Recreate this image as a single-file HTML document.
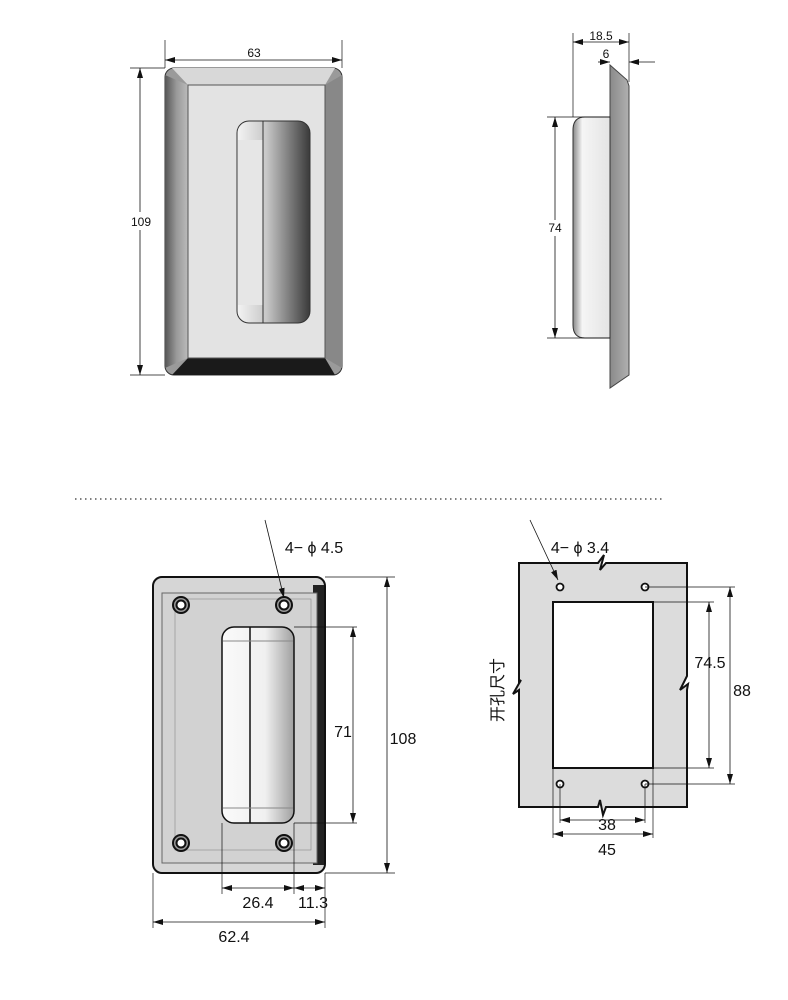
<!DOCTYPE html>
<html><head><meta charset="utf-8"><style>
html,body{margin:0;padding:0;background:#fff;}
svg{display:block;}
text{font-family:"Liberation Sans","Noto Sans CJK SC",sans-serif;fill:#111;}
</style></head><body>
<svg width="788" height="1000" viewBox="0 0 788 1000" xmlns="http://www.w3.org/2000/svg">
<defs>
<marker id="a" viewBox="0 0 10 6" refX="10" refY="3" markerWidth="10" markerHeight="6" orient="auto-start-reverse" markerUnits="userSpaceOnUse"><path d="M0,0 L10,3 L0,6 z" fill="#111"/></marker>
<linearGradient id="hg" x1="0" x2="1" y1="0" y2="0"><stop offset="0" stop-color="#f4f4f4"/><stop offset="0.4" stop-color="#c8c8c8"/><stop offset="1" stop-color="#3a3a3a"/></linearGradient>
<linearGradient id="hg2" x1="0" x2="1"><stop offset="0" stop-color="#fafafa"/><stop offset="0.6" stop-color="#f0f0f0"/><stop offset="1" stop-color="#a0a0a0"/></linearGradient>
<linearGradient id="side" x1="0" x2="1"><stop offset="0" stop-color="#8a8a8a"/><stop offset="1" stop-color="#b0b0b0"/></linearGradient>
<linearGradient id="box" x1="0" x2="1"><stop offset="0" stop-color="#888"/><stop offset="0.25" stop-color="#f5f5f5"/><stop offset="1" stop-color="#e4e4e4"/></linearGradient>
<linearGradient id="lb" x1="0" x2="1"><stop offset="0" stop-color="#555"/><stop offset="0.5" stop-color="#999"/><stop offset="1" stop-color="#bbb"/></linearGradient>
</defs>
<g stroke="#111" stroke-width="1" fill="none">
<!-- top-left view -->
<rect x="165" y="68" width="177" height="307" rx="9" fill="#9a9a9a" stroke="#333"/>
<polygon points="165,75 188,85 188,358 165,368" fill="url(#lb)" stroke="none"/>
<polygon points="342,75 325,85 325,358 342,368" fill="#888" stroke="none"/>
<polygon points="172,68 335,68 325,85 188,85" fill="#d8d8d8" stroke="none"/>
<polygon points="172,375 335,375 325,358 188,358" fill="#1a1a1a" stroke="none"/>
<rect x="188" y="85" width="137" height="273" fill="#e3e3e3" stroke="#555"/>
<rect x="237" y="121" width="73" height="202" rx="12" fill="url(#hg)" stroke="#333"/>
<rect x="238" y="140" width="25" height="165" fill="#e6e6e6" stroke="none"/>
<line x1="263" y1="121" x2="263" y2="323" stroke="#333"/>
<line x1="165" y1="40" x2="165" y2="68" stroke-width="0.7"/>
<line x1="342" y1="40" x2="342" y2="68" stroke-width="0.7"/>
<line x1="165" y1="60" x2="342" y2="60" marker-start="url(#a)" marker-end="url(#a)" stroke-width="0.8"/>
<line x1="130" y1="68" x2="165" y2="68" stroke-width="0.7"/>
<line x1="130" y1="375" x2="165" y2="375" stroke-width="0.7"/>
<line x1="140" y1="68" x2="140" y2="375" marker-start="url(#a)" marker-end="url(#a)" stroke-width="0.8"/>
<rect x="126" y="212" width="30" height="18" fill="#fff" stroke="none"/>
<!-- side view -->
<polygon points="610,65 627,80 629,86 629,375 610,388" fill="url(#side)" stroke="#444"/>
<path d="M610,117 L585,117 Q573,117 573,130 L573,325 Q573,338 585,338 L610,338 Z" fill="url(#box)" stroke="#333"/>
<line x1="573" y1="33" x2="573" y2="117" stroke-width="0.7"/>
<line x1="629" y1="33" x2="629" y2="82" stroke-width="0.7"/>
<line x1="573" y1="42" x2="629" y2="42" marker-start="url(#a)" marker-end="url(#a)" stroke-width="0.8"/>
<line x1="598" y1="62" x2="610" y2="62" marker-end="url(#a)" stroke-width="0.8"/>
<line x1="655" y1="62" x2="629" y2="62" marker-end="url(#a)" stroke-width="0.8"/>
<line x1="547" y1="117" x2="610" y2="117" stroke-width="0.7"/>
<line x1="547" y1="338" x2="610" y2="338" stroke-width="0.7"/>
<line x1="555" y1="117" x2="555" y2="338" marker-start="url(#a)" marker-end="url(#a)" stroke-width="0.8"/>
<rect x="545" y="220" width="22" height="16" fill="#fff" stroke="none"/>
<!-- dotted -->
<line x1="75" y1="499" x2="662" y2="499" stroke="#333" stroke-dasharray="1.5,3.5" stroke-width="1.2"/>
<!-- bottom-left -->
<rect x="153" y="577" width="172" height="296" rx="9" fill="#d6d6d6" stroke="#111" stroke-width="2"/>
<rect x="313" y="585" width="11" height="280" fill="#222" stroke="none"/>
<rect x="162" y="593" width="155" height="270" fill="#d2d2d2" stroke="#666"/>
<rect x="175" y="599" width="136" height="251" fill="none" stroke="#888" stroke-width="0.6"/>
<g fill="#fff" stroke="#111" stroke-width="2">
<circle cx="181" cy="605" r="8" fill="#999"/><circle cx="181" cy="605" r="4.5"/>
<circle cx="284" cy="605" r="8" fill="#999"/><circle cx="284" cy="605" r="4.5"/>
<circle cx="181" cy="843" r="8" fill="#999"/><circle cx="181" cy="843" r="4.5"/>
<circle cx="284" cy="843" r="8" fill="#999"/><circle cx="284" cy="843" r="4.5"/>
</g>
<rect x="222" y="627" width="72" height="196" rx="12" fill="url(#hg2)" stroke="#111" stroke-width="1.5"/>
<line x1="250" y1="627" x2="250" y2="823" stroke-width="1.5"/>
<line x1="223" y1="641" x2="293" y2="641" stroke="#888"/>
<line x1="223" y1="808" x2="293" y2="808" stroke="#888"/>
<line x1="265" y1="520" x2="284" y2="598" stroke-width="0.8" marker-end="url(#a)"/>
<line x1="294" y1="627" x2="357" y2="627" stroke-width="0.7"/>
<line x1="294" y1="823" x2="357" y2="823" stroke-width="0.7"/>
<line x1="353" y1="627" x2="353" y2="823" marker-start="url(#a)" marker-end="url(#a)" stroke-width="0.8"/>
<line x1="325" y1="577" x2="395" y2="577" stroke-width="0.7"/>
<line x1="325" y1="873" x2="395" y2="873" stroke-width="0.7"/>
<line x1="387" y1="577" x2="387" y2="873" marker-start="url(#a)" marker-end="url(#a)" stroke-width="0.8"/>
<line x1="222" y1="823" x2="222" y2="894" stroke-width="0.7"/>
<line x1="294" y1="823" x2="294" y2="894" stroke-width="0.7"/>
<line x1="325" y1="873" x2="325" y2="928" stroke-width="0.7"/>
<line x1="153" y1="873" x2="153" y2="928" stroke-width="0.7"/>
<line x1="222" y1="888" x2="294" y2="888" marker-start="url(#a)" marker-end="url(#a)" stroke-width="0.8"/>
<line x1="294" y1="888" x2="325" y2="888" marker-start="url(#a)" marker-end="url(#a)" stroke-width="0.8"/>
<line x1="153" y1="922" x2="325" y2="922" marker-start="url(#a)" marker-end="url(#a)" stroke-width="0.8"/>
<!-- bottom-right -->
<path d="M519,563 L598,563 L604,555 L600,570 L606,563 L687,563 L687,676 L680,690 L688,684 L687,690 L687,807 L606,807 L603,815 L600,800 L598,807 L519,807 L519,690 L513,694 L521,680 L519,682 Z" fill="#dcdcdc" stroke="#111" stroke-width="2"/>
<rect x="553" y="602" width="100" height="166" fill="#fff" stroke="#111" stroke-width="2"/>
<g fill="#fff" stroke="#111" stroke-width="1.8">
<circle cx="560" cy="587" r="3.5"/><circle cx="645" cy="587" r="3.5"/>
<circle cx="560" cy="784" r="3.5"/><circle cx="645" cy="784" r="3.5"/>
</g>
<line x1="530" y1="520" x2="558" y2="580" stroke-width="0.8" marker-end="url(#a)"/>
<line x1="653" y1="602" x2="714" y2="602" stroke-width="0.7"/>
<line x1="653" y1="768" x2="714" y2="768" stroke-width="0.7"/>
<line x1="709" y1="602" x2="709" y2="768" marker-start="url(#a)" marker-end="url(#a)" stroke-width="0.8"/>
<line x1="645" y1="587" x2="735" y2="587" stroke-width="0.7"/>
<line x1="645" y1="784" x2="735" y2="784" stroke-width="0.7"/>
<line x1="730" y1="587" x2="730" y2="784" marker-start="url(#a)" marker-end="url(#a)" stroke-width="0.8"/>
<line x1="560" y1="784" x2="560" y2="823" stroke-width="0.7"/>
<line x1="645" y1="784" x2="645" y2="823" stroke-width="0.7"/>
<line x1="553" y1="768" x2="553" y2="838" stroke-width="0.7"/>
<line x1="653" y1="768" x2="653" y2="838" stroke-width="0.7"/>
<line x1="560" y1="820" x2="645" y2="820" marker-start="url(#a)" marker-end="url(#a)" stroke-width="0.8"/>
<line x1="553" y1="834" x2="653" y2="834" marker-start="url(#a)" marker-end="url(#a)" stroke-width="0.8"/>
</g>
<g font-size="12" text-anchor="middle">
<text x="254" y="57">63</text>
<text x="141" y="226">109</text>
<text x="601" y="40">18.5</text>
<text x="606" y="58">6</text>
<text x="555" y="232">74</text>
</g>
<g font-size="16" text-anchor="middle">
<text x="314" y="553">4− ϕ 4.5</text>
<text x="343" y="737">71</text>
<text x="403" y="744">108</text>
<text x="258" y="908">26.4</text>
<text x="313" y="908">11.3</text>
<text x="234" y="942">62.4</text>
<text x="580" y="553">4− ϕ 3.4</text>
<text x="710" y="668">74.5</text>
<text x="742" y="696">88</text>
<text x="607" y="830">38</text>
<text x="607" y="855">45</text>
<text x="0" y="0" transform="translate(503,690) rotate(-90)">开孔尺寸</text>
</g>
</svg>
</body></html>
